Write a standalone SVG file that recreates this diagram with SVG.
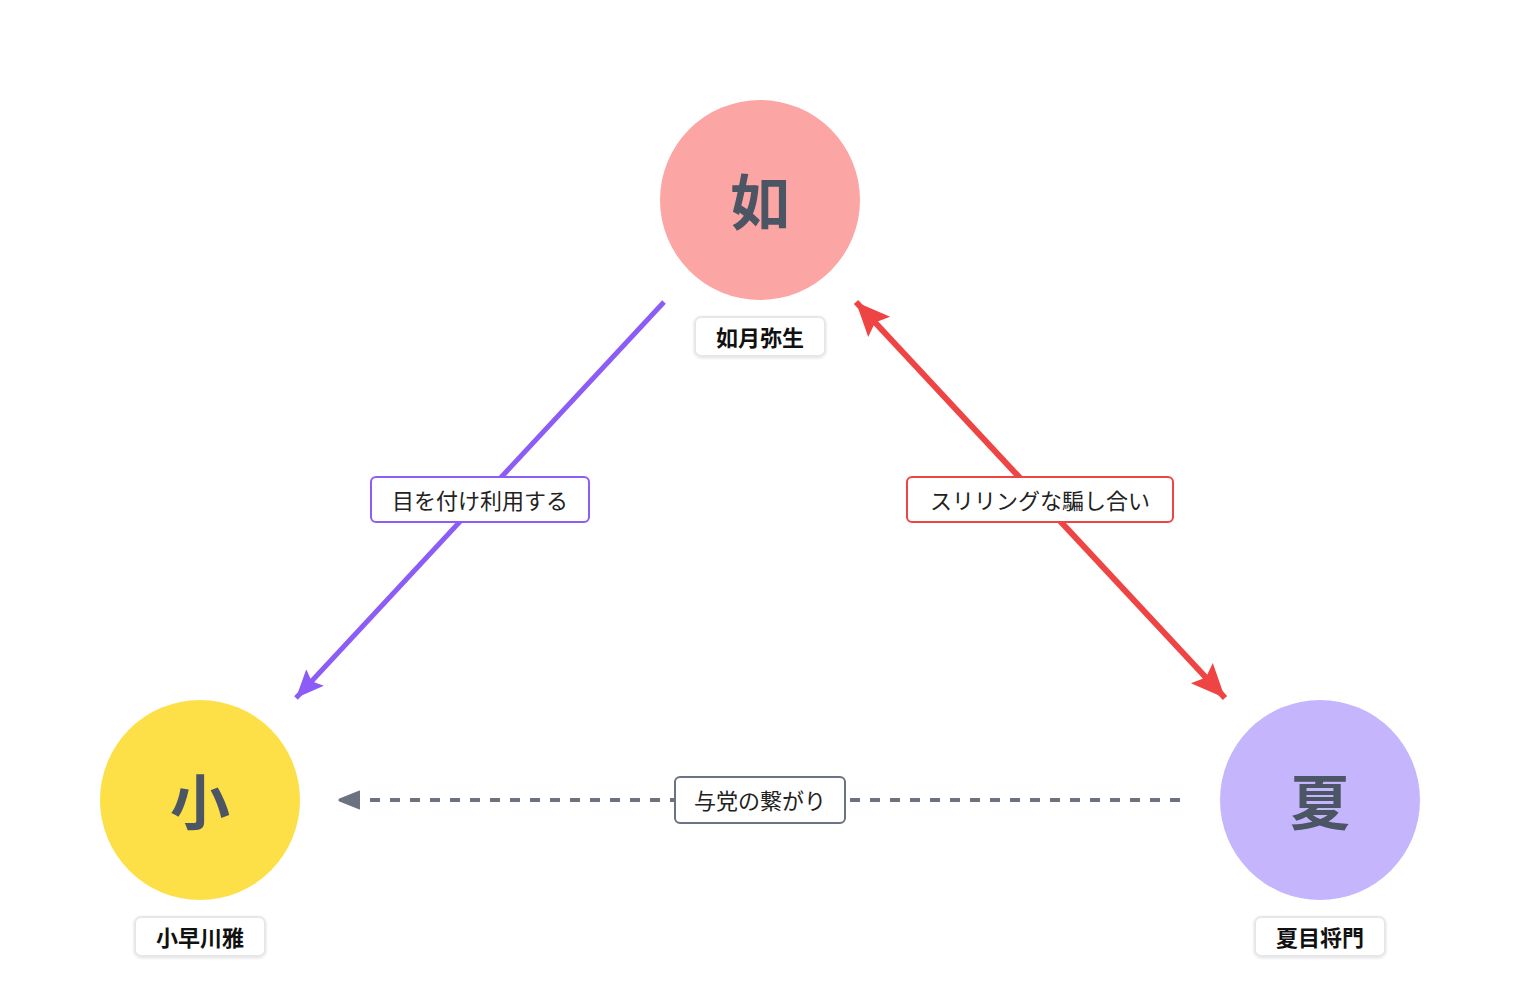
<svg xmlns="http://www.w3.org/2000/svg" width="1520" height="1000" viewBox="0 0 1520 1000">
<defs>
<style>
.ch{font-family:"Noto Sans CJK JP","Noto Sans CJK SC",sans-serif;font-weight:700;font-size:60px;fill:#4b5563;text-anchor:middle;dominant-baseline:central}
.nm{font-family:"Noto Sans CJK JP",sans-serif;font-weight:700;font-size:22px;fill:#111;text-anchor:middle;dominant-baseline:central}
.nb{fill:#fff;stroke:#e5e7eb;stroke-width:2}
.el{font-family:"Noto Sans CJK JP",sans-serif;font-size:22px;fill:#222;text-anchor:middle;dominant-baseline:central}
</style>
<filter id="sh" x="-20%" y="-30%" width="140%" height="160%"><feDropShadow dx="0" dy="1" stdDeviation="1.5" flood-opacity="0.12"/></filter>
<marker id="ap" markerUnits="userSpaceOnUse" markerWidth="30" markerHeight="30" viewBox="0 0 30 30" refX="28" refY="15" orient="auto-start-reverse"><path d="M0,3 L28,15 L0,27 L5,15 Z" fill="#8b5cf6"/></marker>
<marker id="ar" markerUnits="userSpaceOnUse" markerWidth="36" markerHeight="36" viewBox="0 0 36 36" refX="34" refY="18" orient="auto-start-reverse"><path d="M0,3 L34,18 L0,33 L6,18 Z" fill="#ef4444"/></marker>
<marker id="ag" markerUnits="userSpaceOnUse" markerWidth="22" markerHeight="22" viewBox="0 0 22 22" refX="20" refY="11" orient="auto-start-reverse"><path d="M0,3 L20,11 L0,19 Z" fill="#6b7280" stroke="#6b7280" stroke-width="3" stroke-linejoin="round" transform="translate(0,0)"/></marker>
</defs>
<g id="connectors">
<line x1="664" y1="302" x2="296" y2="698" stroke="#8b5cf6" stroke-width="5" marker-end="url(#ap)"/>
<line x1="856" y1="302" x2="1225" y2="698" stroke="#ef4444" stroke-width="6" marker-start="url(#ar)" marker-end="url(#ar)"/>
<line x1="1180" y1="800" x2="340" y2="800" stroke="#6b7280" stroke-width="4" stroke-dasharray="10,10" marker-end="url(#ag)"/>
<rect x="371" y="477" width="218" height="45" rx="5" fill="#fff" stroke="#8b5cf6" stroke-width="2"/>
<text class="el" x="480" y="499">目を付け利用する</text>
<rect x="907" y="477" width="266" height="45" rx="5" fill="#fff" stroke="#ef4444" stroke-width="2"/>
<text class="el" x="1040" y="499">スリリングな騙し合い</text>
<rect x="675" y="777" width="170" height="46" rx="5" fill="#fff" stroke="#6b7280" stroke-width="2"/>
<text class="el" x="760" y="799">与党の繋がり</text>
</g>
<g id="kisaragi">
<circle cx="760" cy="200" r="100" fill="#fca5a5"/>
<text class="ch" x="760" y="198">如</text>
<rect class="nb" x="695" y="317" width="130" height="39" rx="6" filter="url(#sh)"/>
<text class="nm" x="760" y="336">如月弥生</text>
</g>
<g id="kobayakawa">
<circle cx="200" cy="800" r="100" fill="#fde047"/>
<text class="ch" x="200" y="798">小</text>
<rect class="nb" x="135" y="917" width="130" height="39" rx="6" filter="url(#sh)"/>
<text class="nm" x="200" y="936">小早川雅</text>
</g>
<g id="natsume">
<circle cx="1320" cy="800" r="100" fill="#c4b5fd"/>
<text class="ch" x="1320" y="798">夏</text>
<rect class="nb" x="1255" y="917" width="130" height="39" rx="6" filter="url(#sh)"/>
<text class="nm" x="1320" y="936">夏目将門</text>
</g>
</svg>
